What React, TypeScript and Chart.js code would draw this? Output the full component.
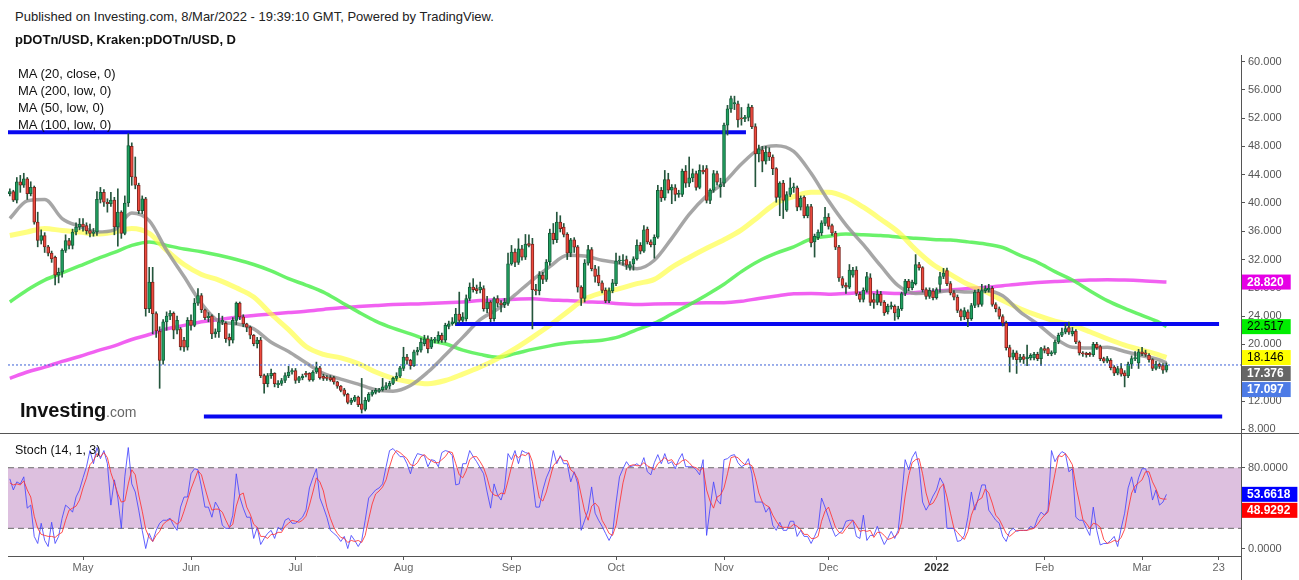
import React, { useEffect, useRef } from "react";
import { Chart, registerables } from "chart.js";
Chart.register(...registerables);

const FONT = "Arial, 'Liberation Sans', Helvetica, sans-serif";

// ---- Daily candles: 10 Apr 2021 (day 0) .. 8 Mar 2022 (day 332) ----
const opens = [
  41.3, 41.6, 40.4, 43.0, 42.5, 43.4, 41.3, 42.2, 37.3, 34.7,
  35.4, 33.8, 32.9, 32.3, 29.8, 30.2, 33.3, 34.7, 34.0, 35.9,
  36.6, 37.0, 36.8, 36.1, 35.7, 35.9, 40.5, 41.5, 40.1, 39.9,
  40.4, 36.6, 38.7, 35.7, 40.0, 48.0, 43.7, 42.5, 38.9, 40.6,
  25.05, 28.8, 24.35, 21.9, 17.75, 23.2, 24.0, 24.4, 22.0, 22.2,
  20.6, 19.6, 23.4, 22.7, 25.85, 26.9, 24.9, 23.8, 24.0, 21.5,
  21.8, 23.2, 23.0, 21.0, 20.6, 23.4, 25.85, 23.9, 22.9, 22.45,
  21.3, 20.1, 20.6, 15.6, 14.45, 15.6, 15.9, 14.3, 14.5, 14.9,
  15.6, 16.1, 16.3, 14.9, 15.3, 15.9, 15.9, 15.0, 16.1, 16.7,
  15.5, 15.4, 15.3, 15.3, 14.7, 14.1, 13.6, 12.95, 11.8, 12.1,
  12.55, 11.6, 10.8, 12.1, 12.95, 13.2, 13.4, 13.6, 13.8, 14.1,
  14.5, 15.2, 15.5, 16.6, 18.2, 17.75, 17.0, 18.95, 19.2, 20.1,
  20.8, 19.6, 20.6, 20.5, 21.3, 20.6, 22.55, 22.9, 23.0, 24.3,
  23.4, 23.6, 26.5, 28.1, 27.9, 27.7, 27.9, 25.05, 26.0, 23.65,
  26.5, 25.9, 25.6, 25.8, 31.4, 33.05, 31.6, 33.5, 32.35, 34.25,
  34.2, 27.75, 27.6, 29.8, 29.2, 31.65, 35.75, 34.8, 37.3, 36.6,
  35.55, 32.9, 34.8, 33.8, 28.1, 26.5, 31.5, 33.4, 30.7, 29.8,
  28.7, 27.65, 26.2, 27.6, 28.6, 31.8, 31.8, 32.0, 30.9, 31.4,
  32.1, 34.0, 33.2, 36.3, 34.5, 34.1, 35.15, 41.8, 40.7, 43.3,
  41.8, 42.15, 41.2, 41.2, 44.5, 42.8, 43.55, 44.15, 42.2, 44.6,
  44.85, 40.35, 41.8, 44.15, 42.3, 42.8, 51.0, 53.3, 54.0, 54.0,
  52.0, 51.9, 52.1, 53.55, 50.8, 46.95, 47.5, 45.9, 47.2, 46.5,
  44.85, 40.8, 42.8, 39.0, 41.2, 42.15, 42.15, 39.4, 40.8, 38.2,
  39.5, 34.5, 35.1, 35.75, 37.1, 38.0, 36.8, 35.75, 33.75, 29.3,
  28.35, 28.1, 29.8, 30.5, 27.1, 26.35, 27.65, 29.4, 26.35, 25.95,
  27.1, 25.95, 24.6, 25.3, 25.4, 23.9, 25.05, 27.2, 28.95, 28.0,
  28.6, 31.3, 30.85, 27.75, 26.8, 27.55, 26.6, 28.5, 29.6, 30.45,
  28.6, 27.3, 26.7, 24.8, 23.9, 24.6, 23.65, 25.5, 27.4, 25.65,
  27.6, 27.7, 27.95, 25.65, 25.05, 23.95, 23.0, 19.55, 18.2, 18.8,
  17.85, 18.3, 18.0, 18.1, 18.1, 18.6, 18.0, 19.4, 19.4, 18.7,
  18.8, 20.35, 21.3, 21.75, 22.4, 21.5, 21.9, 20.35, 18.8, 18.75,
  18.75, 18.55, 20.0, 19.7, 18.0, 17.65, 17.75, 16.8, 15.95, 16.6,
  16.0, 15.55, 17.2, 18.0, 17.4, 18.95, 18.8, 18.45, 17.85, 16.6,
  17.2, 17.0, 16.35,
];
const highs = [
  42.0, 41.8, 43.6, 43.9, 44.2, 43.6, 43.0, 42.4, 38.7, 36.2,
  35.8, 34.0, 33.2, 32.5, 30.8, 33.5, 35.5, 35.0, 36.3, 37.2,
  37.8, 37.8, 37.2, 37.0, 36.4, 41.6, 42.2, 41.9, 40.6, 41.5,
  40.8, 42.0, 38.9, 41.0, 49.8, 48.5, 46.5, 42.8, 41.0, 40.8,
  30.9, 30.9, 24.6, 22.5, 23.5, 24.6, 24.8, 24.6, 24.0, 22.4,
  21.0, 23.8, 24.2, 26.5, 27.9, 27.2, 25.0, 24.5, 24.2, 22.2,
  24.4, 24.0, 23.2, 21.5, 23.8, 26.0, 26.0, 24.2, 23.0, 22.6,
  21.4, 21.0, 21.0, 15.8, 15.9, 16.5, 16.0, 14.9, 15.2, 16.0,
  16.9, 16.6, 16.6, 15.5, 15.8, 16.2, 16.0, 16.3, 17.5, 16.9,
  15.8, 15.6, 15.6, 15.5, 14.8, 14.2, 13.8, 13.1, 12.4, 12.8,
  12.7, 15.2, 12.5, 13.2, 13.5, 13.8, 13.8, 15.2, 14.6, 14.8,
  15.4, 16.0, 16.9, 19.6, 18.6, 17.9, 19.2, 19.6, 20.9, 21.3,
  21.2, 21.0, 21.0, 21.8, 21.6, 23.0, 23.3, 23.8, 25.1, 27.4,
  24.5, 27.0, 28.7, 29.3, 28.4, 28.8, 28.3, 26.8, 26.2, 26.7,
  26.9, 26.2, 26.5, 32.9, 34.0, 33.5, 34.95, 34.0, 35.55, 35.5,
  35.0, 28.5, 30.3, 30.2, 32.0, 36.3, 37.1, 38.7, 38.2, 37.1,
  35.8, 35.0, 35.1, 34.0, 28.3, 32.0, 34.0, 33.7, 31.2, 31.0,
  29.0, 28.0, 28.0, 29.2, 32.9, 32.5, 32.7, 32.5, 31.7, 32.4,
  34.8, 34.4, 36.8, 36.6, 34.8, 35.5, 42.5, 42.2, 44.6, 44.2,
  42.6, 42.6, 41.8, 44.8, 45.3, 46.5, 44.8, 44.5, 45.4, 45.3,
  45.3, 42.0, 44.6, 44.5, 43.5, 51.3, 53.8, 55.1, 55.1, 54.4,
  53.5, 52.4, 54.0, 53.8, 51.2, 48.2, 48.0, 48.0, 47.8, 46.8,
  45.0, 43.0, 43.2, 41.6, 43.55, 42.8, 42.4, 41.0, 41.0, 39.8,
  39.8, 35.6, 36.2, 37.5, 39.4, 38.5, 37.0, 36.0, 34.0, 29.6,
  28.7, 31.3, 30.9, 31.0, 27.4, 28.0, 30.2, 30.0, 27.2, 27.7,
  27.5, 26.2, 25.7, 26.0, 25.6, 25.4, 27.4, 29.2, 29.2, 29.1,
  32.7, 31.6, 31.0, 28.0, 28.0, 27.9, 28.0, 30.2, 30.75, 30.8,
  28.9, 27.6, 27.0, 25.0, 25.2, 24.9, 25.8, 27.7, 27.8, 28.5,
  28.3, 28.5, 28.2, 25.9, 25.3, 24.2, 23.3, 19.9, 19.2, 19.1,
  18.6, 18.6, 19.9, 18.7, 18.9, 18.9, 19.6, 19.8, 19.6, 19.1,
  20.6, 21.6, 22.3, 22.9, 23.15, 22.4, 22.1, 20.5, 19.0, 18.9,
  18.9, 20.3, 20.3, 19.9, 18.2, 18.3, 18.0, 17.0, 16.9, 17.3,
  16.3, 17.5, 18.4, 19.0, 19.3, 19.6, 19.2, 18.7, 18.0, 17.6,
  17.4, 17.3, 17.4,
];
const lows = [
  41.0, 40.2, 40.0, 41.5, 42.2, 40.5, 41.0, 37.0, 33.8, 34.2,
  33.0, 32.5, 31.6, 28.4, 28.7, 29.5, 33.0, 33.5, 33.5, 35.5,
  36.2, 36.0, 35.6, 35.2, 35.3, 35.4, 40.0, 39.5, 38.7, 39.5,
  35.5, 33.9, 35.0, 35.5, 39.5, 42.5, 42.0, 38.5, 38.5, 24.0,
  24.5, 21.5, 21.0, 13.8, 17.2, 22.0, 23.5, 20.8, 21.5, 19.2,
  19.0, 19.2, 22.0, 22.5, 25.5, 24.5, 23.5, 23.2, 20.8, 21.0,
  21.0, 22.8, 20.3, 19.8, 20.2, 22.8, 23.5, 22.5, 21.8, 20.8,
  19.8, 19.5, 15.3, 13.1, 14.0, 15.2, 14.0, 13.9, 14.2, 14.6,
  15.3, 15.8, 14.5, 14.6, 15.0, 15.4, 14.8, 14.8, 15.9, 15.1,
  14.9, 14.9, 14.8, 14.4, 13.8, 13.3, 12.7, 11.6, 11.5, 11.9,
  11.2, 10.3, 10.6, 11.9, 12.7, 13.0, 13.2, 13.4, 13.6, 13.7,
  14.3, 14.9, 15.3, 16.3, 17.2, 16.5, 16.9, 18.5, 18.9, 19.8,
  18.8, 19.4, 20.2, 20.2, 20.3, 20.3, 22.2, 22.7, 22.8, 23.0,
  23.2, 23.3, 26.2, 27.4, 27.2, 27.3, 24.7, 24.5, 23.2, 23.3,
  25.3, 24.6, 25.2, 25.5, 31.2, 31.0, 31.3, 31.9, 32.0, 33.8,
  22.2, 27.0, 27.0, 28.6, 28.9, 31.2, 34.2, 34.4, 35.9, 35.2,
  32.0, 32.4, 33.0, 27.4, 25.5, 26.0, 31.2, 30.4, 28.8, 28.3,
  27.3, 25.9, 25.9, 27.3, 28.3, 31.4, 31.2, 30.6, 30.5, 30.5,
  31.9, 32.8, 33.0, 34.2, 33.8, 32.2, 35.0, 40.2, 40.4, 41.4,
  39.9, 40.3, 40.8, 40.9, 42.2, 42.3, 43.0, 41.8, 42.0, 44.1,
  40.0, 39.9, 41.5, 42.5, 40.8, 42.3, 49.6, 52.8, 53.2, 50.7,
  51.0, 51.5, 51.6, 50.5, 42.3, 45.8, 44.4, 45.5, 46.0, 44.0,
  40.1, 38.2, 37.8, 38.8, 40.9, 41.5, 38.9, 39.0, 37.9, 37.9,
  33.8, 32.35, 34.8, 35.4, 36.8, 36.3, 35.4, 33.4, 28.9, 28.0,
  27.2, 27.9, 29.5, 26.9, 26.0, 26.0, 27.4, 25.5, 25.1, 25.6,
  25.5, 24.1, 24.3, 25.0, 23.4, 23.6, 24.8, 26.9, 27.6, 27.7,
  28.4, 30.5, 27.4, 26.4, 26.5, 26.3, 26.4, 27.4, 29.3, 28.3,
  27.0, 26.3, 24.5, 23.4, 23.5, 22.5, 23.4, 25.2, 25.3, 25.4,
  27.3, 27.4, 25.4, 24.6, 23.6, 22.6, 19.2, 16.1, 17.9, 15.9,
  17.5, 17.3, 17.0, 17.8, 17.8, 17.7, 17.05, 18.8, 18.4, 18.4,
  18.6, 20.1, 21.1, 21.5, 21.4, 21.2, 20.1, 18.5, 18.3, 18.2,
  18.3, 18.3, 19.3, 17.7, 17.4, 17.4, 16.4, 15.6, 15.7, 15.5,
  14.0, 15.3, 16.6, 17.7, 16.6, 18.4, 18.3, 17.5, 16.3, 16.4,
  16.6, 15.9, 16.1,
];
const closes = [
  41.6, 40.4, 43.0, 42.5, 43.4, 41.3, 42.2, 37.3, 34.7, 35.4,
  33.8, 32.9, 32.1, 29.8, 30.2, 33.3, 34.7, 34.0, 35.9, 36.6,
  37.0, 36.6, 36.1, 35.7, 35.9, 40.5, 41.5, 40.1, 39.9, 40.4,
  36.6, 38.7, 35.7, 40.0, 48.1, 43.7, 42.5, 38.9, 40.6, 25.05,
  28.8, 24.35, 21.9, 17.75, 23.2, 24.0, 24.4, 22.0, 23.4, 19.7,
  19.6, 23.4, 22.7, 25.85, 26.9, 24.9, 23.8, 24.0, 21.5, 21.8,
  23.2, 23.4, 20.8, 20.6, 23.4, 25.85, 23.9, 22.9, 22.45, 21.3,
  20.1, 20.6, 15.6, 14.45, 15.6, 15.9, 14.45, 14.5, 14.9, 15.6,
  16.1, 16.3, 14.9, 15.3, 15.5, 15.7, 15.0, 16.1, 16.7, 15.3,
  15.2, 15.2, 15.0, 14.7, 14.1, 13.5, 12.95, 11.8, 12.1, 12.55,
  11.5, 10.8, 12.1, 12.95, 13.3, 13.5, 13.6, 14.0, 14.2, 14.5,
  15.2, 15.5, 16.7, 18.2, 17.75, 17.0, 18.95, 19.2, 20.35, 20.8,
  19.4, 20.6, 20.7, 21.3, 20.6, 22.7, 22.9, 23.2, 24.3, 23.4,
  23.9, 26.5, 28.1, 27.75, 27.6, 28.1, 25.05, 26.0, 23.65, 26.5,
  25.85, 25.6, 25.95, 31.4, 33.05, 31.6, 33.5, 32.35, 34.2, 34.0,
  27.75, 27.55, 29.8, 29.2, 31.65, 35.75, 34.8, 37.3, 36.35, 35.55,
  32.9, 34.8, 33.75, 28.1, 26.5, 31.5, 33.4, 30.7, 29.6, 28.7,
  27.65, 26.2, 27.6, 28.7, 31.8, 31.9, 31.9, 31.2, 31.3, 32.1,
  34.0, 33.2, 36.2, 34.5, 34.1, 35.15, 41.8, 40.7, 43.3, 41.8,
  42.2, 41.2, 41.35, 44.5, 42.8, 43.55, 44.15, 42.2, 44.6, 44.4,
  40.35, 41.8, 44.15, 42.95, 42.6, 51.0, 53.3, 54.75, 54.2, 51.75,
  51.9, 52.1, 53.55, 50.8, 46.95, 47.65, 45.9, 47.2, 46.5, 44.85,
  40.8, 42.8, 40.35, 41.2, 42.15, 42.2, 39.4, 40.7, 38.2, 39.5,
  34.35, 35.3, 35.9, 37.2, 38.0, 36.7, 35.75, 33.75, 29.4, 28.35,
  28.1, 30.5, 30.5, 27.2, 26.35, 27.65, 29.6, 25.95, 25.95, 27.1,
  25.95, 24.45, 25.4, 25.5, 24.45, 25.05, 27.2, 28.95, 28.0, 28.8,
  31.3, 30.85, 27.75, 26.8, 27.65, 26.6, 27.75, 29.6, 30.1, 28.6,
  27.3, 26.7, 24.8, 23.9, 24.8, 23.65, 25.5, 27.4, 25.65, 27.6,
  27.9, 27.95, 25.65, 25.05, 23.95, 23.0, 19.55, 18.2, 18.8, 17.85,
  18.2, 17.9, 18.2, 18.45, 18.6, 18.0, 19.4, 19.15, 18.7, 18.85,
  20.35, 21.3, 21.75, 22.25, 21.75, 21.9, 20.35, 18.8, 18.65, 18.55,
  18.55, 20.0, 19.55, 18.0, 17.65, 18.0, 16.7, 15.95, 16.6, 15.8,
  15.55, 17.2, 18.0, 18.1, 18.95, 18.7, 18.6, 17.85, 16.6, 17.2,
  16.9, 16.35, 17.097,
];

// ---- Stochastic (14,1,3) ----
const stochK = [
  69, 58, 66, 64, 71, 40, 43, 12, 5, 25,
  8, 2, 26, 5, 12, 30, 43, 40, 36, 51,
  58, 70, 81, 97, 84, 100, 89, 97, 84, 43,
  68, 50, 20, 71, 100, 64, 56, 38, 18, 0,
  15, 7, 18, 25, 28, 28, 30, 23, 18, 41,
  51, 51, 74, 79, 78, 61, 41, 41, 31, 46,
  40, 23, 20, 20, 33, 74, 51, 40, 31, 31,
  10, 21, 4, 10, 15, 18, 10, 21, 18, 28,
  30, 25, 25, 28, 31, 38, 60, 70, 79, 50,
  41, 31, 18, 15, 12, 7, 12, 0, 13, 8,
  2, 8, 28, 50, 54, 58, 60, 64, 81, 97,
  99, 95, 91, 91, 84, 74, 87, 94, 93, 92,
  81, 88, 87, 81, 95, 97, 96, 92, 63, 64,
  84, 84, 97, 91, 86, 80, 74, 56, 40, 64,
  53, 48, 60, 94, 88, 97, 84, 97, 95, 94,
  68, 41, 41, 58, 70, 78, 97, 84, 92, 84,
  84, 66, 76, 64, 18, 28, 38, 61, 35, 28,
  22, 15, 8, 15, 45, 71, 79, 86, 81, 82,
  84, 81, 90, 76, 73, 85, 93, 84, 94, 84,
  86, 79, 88, 94, 81, 81, 81, 78, 73, 88,
  13, 40, 66, 48, 44, 88, 89, 92, 93, 85,
  81, 83, 89, 74, 46, 46, 46, 36, 41, 23,
  18, 26, 18, 18, 27, 27, 12, 18, 12, 12,
  5, 12, 20, 50, 41, 31, 20, 12, 15, 18,
  27, 28, 28, 12, 10, 33, 8, 13, 13, 22,
  12, 4, 10, 17, 10, 18, 51, 88, 78, 90,
  96, 81, 46, 38, 44, 52, 58, 70, 64, 20,
  20, 20, 7, 8, 13, 31, 56, 38, 50, 63,
  63, 38, 33, 28, 25, 12, 7, 17, 20, 17,
  18, 18, 18, 22, 20, 30, 36, 33, 38, 97,
  86, 92, 96, 94, 76, 79, 31, 28, 28, 20,
  13, 41, 18, 3.5, 5, 5, 8, 12, 2, 20,
  35, 60, 71, 55, 70, 79, 79, 70, 48, 58,
  43, 46, 53.6618,
];
const stochD = [
  65, 63, 64, 63, 67, 58, 51, 32, 20, 14,
  13, 12, 12, 11, 14, 16, 28, 38, 40, 42,
  48, 60, 70, 83, 87, 94, 91, 95, 90, 75,
  65, 54, 46, 47, 64, 78, 73, 53, 37, 19,
  11, 7, 13, 17, 24, 27, 29, 27, 24, 27,
  37, 48, 59, 68, 77, 73, 60, 48, 38, 39,
  39, 36, 28, 21, 24, 42, 53, 55, 41, 34,
  24, 21, 12, 12, 10, 14, 14, 16, 16, 22,
  25, 28, 27, 26, 28, 32, 43, 56, 70, 66,
  57, 41, 30, 21, 15, 11, 10, 6, 8, 7,
  8, 6, 13, 29, 44, 54, 57, 61, 68, 81,
  92, 97, 95, 92, 89, 83, 82, 85, 91, 93,
  89, 87, 85, 85, 88, 91, 96, 95, 84, 73,
  70, 77, 88, 91, 91, 86, 80, 70, 57, 53,
  52, 55, 54, 67, 81, 93, 90, 93, 92, 95,
  86, 68, 50, 47, 56, 69, 82, 86, 91, 87,
  87, 78, 75, 69, 53, 37, 28, 42, 45, 41,
  28, 22, 15, 13, 23, 44, 65, 79, 82, 83,
  82, 82, 85, 82, 80, 78, 84, 87, 90, 87,
  88, 83, 84, 87, 88, 85, 81, 80, 77, 80,
  58, 47, 40, 51, 53, 60, 74, 90, 91, 90,
  86, 83, 84, 82, 70, 55, 46, 43, 41, 33,
  27, 22, 21, 21, 21, 24, 22, 19, 14, 14,
  10, 10, 12, 27, 37, 41, 31, 21, 16, 15,
  20, 24, 28, 23, 17, 18, 17, 18, 11, 16,
  16, 13, 9, 10, 12, 15, 26, 52, 72, 85,
  88, 89, 74, 55, 43, 45, 51, 60, 64, 51,
  35, 20, 16, 12, 9, 17, 33, 42, 48, 50,
  59, 55, 45, 33, 29, 22, 15, 12, 15, 18,
  18, 18, 18, 19, 20, 24, 29, 33, 36, 56,
  74, 92, 91, 94, 89, 83, 62, 46, 29, 25,
  20, 25, 24, 21, 9, 5, 6, 8, 7, 11,
  19, 38, 55, 62, 65, 68, 76, 76, 66, 59,
  50, 49, 48.9292,
];

// ---- Moving averages, read every 5 days ----
const maDays = [
  0, 5, 10, 15, 20, 25, 30, 35, 40, 45, 50, 55, 60, 65, 70, 75, 80, 85, 90, 95,
  100, 105, 110, 115, 120, 125, 130, 135, 140, 145, 150, 155, 160, 165, 170, 175, 180, 185, 190, 195,
  200, 205, 210, 215, 220, 225, 230, 235, 240, 245, 250, 255, 260, 265, 270, 275, 280, 285, 290, 295,
  300, 305, 310, 315, 320, 325, 330, 332,
];
const ma20 = [
  37.8, 40.3, 40.5, 37.8, 36.7, 35.9, 36.2, 38.6, 37.5, 33.3,
  29.6, 25.8, 23.3, 22.9, 22.2, 20.3, 19.0, 17.4, 15.9, 15.1,
  14.4, 13.6, 13.4, 14.2, 16.1, 18.5, 21.0, 23.5, 25.0, 27.0,
  29.1, 31.0, 32.6, 32.5, 31.9, 31.5, 30.7, 31.9, 35.0, 38.4,
  41.0, 42.9, 45.5, 47.6, 48.1, 47.3, 44.2, 40.3, 36.9, 34.1,
  31.1, 28.3, 27.2, 27.3, 27.6, 27.4, 27.6, 26.9, 24.6, 22.9,
  20.9, 19.6, 19.5, 19.6, 19.0, 18.4, 17.8, 17.376,
];
const ma50 = [
  35.4, 35.9, 36.4, 36.1, 35.9, 35.6, 35.9, 36.4, 35.7, 33.3,
  31.3, 29.9, 29.1, 28.0, 26.7, 24.3, 22.1, 19.7, 18.6, 18.1,
  17.3, 16.1, 15.2, 14.7, 14.45, 14.9, 15.8, 16.8, 18.0, 19.4,
  21.0, 22.7, 24.6, 26.4, 27.3, 27.9, 28.6, 29.2, 30.9, 32.3,
  33.6, 34.8, 36.2, 38.1, 40.0, 40.9, 41.5, 41.5, 40.8, 39.4,
  37.7, 35.9, 33.4, 31.3, 29.9, 28.5, 27.5, 26.2, 25.05, 24.1,
  23.3, 22.7, 21.8, 20.8, 19.9, 19.2, 18.5, 18.146,
];
const ma100 = [
  26.0, 27.7, 29.1, 30.1, 31.1, 32.1, 33.0, 34.0, 34.5, 34.0,
  33.5, 33.1, 32.6, 32.0, 31.3, 30.4, 29.3, 28.4, 27.4, 26.0,
  24.6, 23.3, 22.3, 21.5, 20.6, 20.1, 19.2, 18.6, 18.2, 18.7,
  19.3, 19.8, 20.2, 20.4, 20.6, 21.1, 22.1, 23.0, 24.3, 25.6,
  27.0, 28.5, 30.3, 31.8, 32.9, 33.8, 34.9, 35.3, 35.6, 35.5,
  35.4, 35.2, 35.0, 34.85, 34.75, 34.5, 34.2, 33.7, 32.6, 31.6,
  30.3, 29.1, 27.6, 26.2, 25.1, 24.1, 23.1, 22.517,
];
const ma200 = [
  15.2, 16.1, 16.8, 17.6, 18.3, 19.1, 19.8, 20.7, 21.4, 22.2,
  22.7, 23.2, 23.5, 23.85, 24.1, 24.3, 24.5, 24.7, 24.95, 25.2,
  25.35, 25.5, 25.65, 25.7, 25.8, 25.9, 26.0, 26.2, 26.3, 26.4,
  26.45, 26.3, 26.2, 26.05, 25.95, 25.75, 25.65, 25.7, 25.75, 25.8,
  25.9, 25.9, 26.1, 26.5, 26.85, 27.15, 27.2, 27.1, 27.2, 27.3,
  27.3, 27.2, 27.35, 27.5, 27.7, 27.9, 28.05, 28.3, 28.55, 28.75,
  28.9, 29.0, 29.1, 29.15, 29.1, 29.0, 28.85, 28.82,
];

// ---- Drawn horizontal levels (value, start day, end day) ----
const levelValues = [50.0, 22.9, 9.8];
const levelStartDays = [-0.53, 127.8, 55.7];
const levelEndDays = [211.3, 347.1, 348.0];

// ---- Axes ----
const X_MIN = -0.53;
const X_MAX = 353.4;
const monthTickDays = [21, 52, 82, 113, 144, 174, 205, 235, 266, 297, 325, 347];
const monthTickLabels = ["May", "Jun", "Jul", "Aug", "Sep", "Oct", "Nov", "Dec", "2022", "Feb", "Mar", "23"];
const priceTicks = [8, 12, 16, 20, 24, 28, 32, 36, 40, 44, 48, 52, 56, 60];
const stochTicks = [0, 80];
const stochBand = [80, 20];

const AXIS_W = 58;

function labelPlugin(id: string, scaleId: string, items: any[]) {
  return {
    id,
    afterDraw(chart: any) {
      const ctx = chart.ctx;
      const scale = chart.scales[scaleId];
      const ca = chart.chartArea;
      ctx.save();
      const h = 15;
      const arr = items
        .map((it) => ({ ...it, c: scale.getPixelForValue(it.value) }))
        .sort((a, b) => a.c - b.c);
      let prevBottom = -Infinity;
      for (const it of arr) {
        let top = it.c - h / 2;
        if (top < prevBottom + 1) top = prevBottom + 1;
        const text = it.value.toFixed(it.digits);
        ctx.font = `${it.fg === "#ffffff" ? "bold " : ""}12px ${FONT}`;
        const w = ctx.measureText(text).width + 12;
        ctx.fillStyle = it.bg;
        ctx.fillRect(ca.right + 1, top, w, h);
        ctx.fillStyle = it.fg;
        ctx.textBaseline = "middle";
        ctx.textAlign = "left";
        ctx.fillText(text, ca.right + 6, top + h / 2 + 0.5);
        prevBottom = top + h;
      }
      ctx.restore();
    },
  };
}

const axisExtend = {
  id: "axisExtend",
  afterDraw(chart: any) {
    const ctx = chart.ctx;
    const ca = chart.chartArea;
    ctx.save();
    ctx.strokeStyle = "#555";
    ctx.lineWidth = 1;
    ctx.beginPath();
    ctx.moveTo(Math.round(ca.right) + 0.5, ca.bottom);
    ctx.lineTo(Math.round(ca.right) + 0.5, chart.height);
    ctx.stroke();
    ctx.restore();
  },
};

function noEdgePadding(s: any) {
  s.paddingTop = 0;
  s.paddingBottom = 0;
  s.paddingLeft = 0;
  s.paddingRight = 0;
}

function mainConfig(): any {
  const days = closes.map((_, i) => i);
  const up = days.map((i) => closes[i] >= opens[i]);
  const mk = (arr: number[]) => maDays.map((d, i) => ({ x: d, y: arr[i] }));
  const lastClose = closes[closes.length - 1];
  const lineBase = { type: "line", pointRadius: 0, cubicInterpolationMode: "monotone", fill: false };
  const datasets: any[] = [
    {
      type: "line",
      data: [{ x: X_MIN, y: lastClose }, { x: X_MAX, y: lastClose }],
      borderColor: "#3a5fd6",
      borderWidth: 1,
      borderDash: [2, 2],
      pointRadius: 0,
      order: 0,
    },
    {
      type: "bar",
      data: days.map((i) => ({ x: i, y: [opens[i], closes[i]] })),
      backgroundColor: up.map((u) => (u ? "#20a060" : "#ee4a3e")),
      borderColor: up.map((u) => (u ? "#13603a" : "#7e2620")),
      borderWidth: 1,
      borderSkipped: false,
      barThickness: 3,
      minBarLength: 1,
      grouped: false,
      order: 1,
    },
    {
      type: "bar",
      data: days.map((i) => ({ x: i, y: [lows[i], highs[i]] })),
      backgroundColor: "#24553c",
      barThickness: 1,
      grouped: false,
      order: 2,
    },
  ];
  levelValues.forEach((v, k) => {
    datasets.push({
      type: "line",
      data: [{ x: levelStartDays[k], y: v }, { x: levelEndDays[k], y: v }],
      borderColor: "#0808f0",
      borderWidth: 4,
      pointRadius: 0,
      order: 3,
    });
  });
  datasets.push({ ...lineBase, data: mk(ma20), borderColor: "rgba(150,150,150,0.85)", borderWidth: 3.5, order: 4 });
  datasets.push({ ...lineBase, data: mk(ma50), borderColor: "rgba(255,255,60,0.65)", borderWidth: 5, order: 5 });
  datasets.push({ ...lineBase, data: mk(ma100), borderColor: "rgba(80,240,80,0.85)", borderWidth: 3.5, order: 6 });
  datasets.push({ ...lineBase, data: mk(ma200), borderColor: "rgba(240,80,240,0.9)", borderWidth: 3.5, order: 7 });

  return {
    type: "bar",
    data: { datasets },
    options: {
      animation: false,
      responsive: false,
      maintainAspectRatio: false,
      events: [],
      layout: { padding: { left: 8, right: 0, top: 0, bottom: 0 } },
      plugins: { legend: { display: false }, tooltip: { enabled: false } },
      scales: {
        x: { type: "linear", min: X_MIN, max: X_MAX, display: false, offset: false },
        y: {
          position: "right",
          min: 7.48,
          max: 60.92,
          afterFit(s: any) { s.width = AXIS_W; noEdgePadding(s); },
          afterBuildTicks(s: any) { s.ticks = priceTicks.map((v) => ({ value: v })); },
          ticks: {
            callback: (v: any) => Number(v).toFixed(3),
            color: "#555",
            font: { family: FONT, size: 11 },
            padding: 3,
            autoSkip: false,
          },
          grid: { drawOnChartArea: false, drawTicks: true, tickLength: 4, color: "#555" },
          border: { display: true, color: "#555", width: 1 },
        },
      },
    },
    plugins: [
      labelPlugin("mainLabels", "y", [
        { value: ma200[ma200.length - 1], bg: "#e600e6", fg: "#ffffff", digits: 3 },
        { value: ma100[ma100.length - 1], bg: "#00ee00", fg: "#000000", digits: 3 },
        { value: ma50[ma50.length - 1], bg: "#ffff00", fg: "#000000", digits: 3 },
        { value: ma20[ma20.length - 1], bg: "#666666", fg: "#ffffff", digits: 3 },
        { value: lastClose, bg: "#4d7be6", fg: "#ffffff", digits: 3 },
      ]),
    ],
  };
}

function stochConfig(): any {
  const days = stochK.map((_, i) => i);
  return {
    type: "line",
    data: {
      datasets: [
        {
          data: [{ x: X_MIN, y: stochBand[0] }, { x: X_MAX, y: stochBand[0] }],
          borderColor: "#6a6a6a",
          borderWidth: 1,
          borderDash: [6, 4],
          pointRadius: 0,
          fill: "+1",
          backgroundColor: "#ddc0df",
          order: 3,
        },
        {
          data: [{ x: X_MIN, y: stochBand[1] }, { x: X_MAX, y: stochBand[1] }],
          borderColor: "#6a6a6a",
          borderWidth: 1,
          borderDash: [6, 4],
          pointRadius: 0,
          fill: false,
          order: 2,
        },
        {
          data: days.map((i) => ({ x: i, y: stochK[i] })),
          borderColor: "rgba(70,70,255,0.85)",
          borderWidth: 1,
          pointRadius: 0,
          fill: false,
          order: 1,
        },
        {
          data: days.map((i) => ({ x: i, y: stochD[i] })),
          borderColor: "rgba(255,50,50,0.85)",
          borderWidth: 1,
          pointRadius: 0,
          fill: false,
          order: 0,
        },
      ],
    },
    options: {
      animation: false,
      responsive: false,
      maintainAspectRatio: false,
      events: [],
      layout: { padding: { left: 8, right: 0, top: 0, bottom: 0 } },
      plugins: { legend: { display: false }, tooltip: { enabled: false } },
      scales: {
        x: {
          type: "linear",
          min: X_MIN,
          max: X_MAX,
          offset: false,
          afterFit(s: any) { s.height = 24; noEdgePadding(s); },
          afterBuildTicks(s: any) { s.ticks = monthTickDays.map((v) => ({ value: v })); },
          ticks: {
            callback: (_v: any, idx: number) => monthTickLabels[idx],
            autoSkip: false,
            maxRotation: 0,
            padding: 1,
            color: (c: any) => (c.tick && c.tick.value === 266 ? "#333" : "#666"),
            font: (c: any) => ({ family: FONT, size: 11, weight: c.tick && c.tick.value === 266 ? "bold" : "normal" }),
          },
          grid: { drawOnChartArea: false, drawTicks: true, tickLength: 4, color: "#555" },
          border: { display: true, color: "#555", width: 1 },
        },
        y: {
          position: "right",
          min: -7.4,
          max: 114.4,
          afterFit(s: any) { s.width = AXIS_W; noEdgePadding(s); },
          afterBuildTicks(s: any) { s.ticks = stochTicks.map((v) => ({ value: v })); },
          ticks: {
            callback: (v: any) => Number(v).toFixed(4),
            color: "#555",
            font: { family: FONT, size: 11 },
            padding: 3,
            autoSkip: false,
          },
          grid: { drawOnChartArea: false, drawTicks: true, tickLength: 4, color: "#555" },
          border: { display: true, color: "#555", width: 1 },
        },
      },
    },
    plugins: [
      axisExtend,
      labelPlugin("stochLabels", "y", [
        { value: stochK[stochK.length - 1], bg: "#0000ff", fg: "#ffffff", digits: 4 },
        { value: stochD[stochD.length - 1], bg: "#ff0000", fg: "#ffffff", digits: 4 },
      ]),
    ],
  };
}

const textBase: React.CSSProperties = {
  position: "absolute",
  fontFamily: FONT,
  whiteSpace: "nowrap",
  color: "#222",
  zIndex: 2,
};

export default function App() {
  const mainRef = useRef<HTMLCanvasElement>(null);
  const stochRef = useRef<HTMLCanvasElement>(null);

  useEffect(() => {
    const c1 = new Chart(mainRef.current as HTMLCanvasElement, mainConfig());
    const c2 = new Chart(stochRef.current as HTMLCanvasElement, stochConfig());
    return () => {
      c1.destroy();
      c2.destroy();
    };
  }, []);

  const legend = ["MA (20, close, 0)", "MA (200, low, 0)", "MA (50, low, 0)", "MA (100, low, 0)"];

  return (
    <div style={{ position: "fixed", left: 0, top: 0, width: 1299, height: 580, background: "#fff", overflow: "hidden" }}>
      <canvas
        ref={mainRef}
        width={1299}
        height={378}
        style={{ position: "absolute", left: 0, top: 55, width: 1299, height: 378 }}
      />
      <canvas
        ref={stochRef}
        width={1299}
        height={147}
        style={{ position: "absolute", left: 0, top: 433, width: 1299, height: 147 }}
      />
      <div style={{ position: "absolute", left: 0, top: 433, width: 1299, height: 1, background: "#555", zIndex: 1 }} />

      <div style={{ ...textBase, left: 15, top: 10, fontSize: 13, lineHeight: "13px" }}>
        Published on Investing.com, 8/Mar/2022 - 19:39:10 GMT, Powered by TradingView.
      </div>
      <div style={{ ...textBase, left: 15, top: 33, fontSize: 13, lineHeight: "13px", fontWeight: "bold", color: "#111" }}>
        pDOTn/USD, Kraken:pDOTn/USD, D
      </div>
      {legend.map((t, i) => (
        <div key={t} style={{ ...textBase, left: 18, top: 67 + i * 17, fontSize: 13, lineHeight: "13px", color: "#111" }}>
          {t}
        </div>
      ))}
      <div style={{ ...textBase, left: 15, top: 444, fontSize: 12.5, lineHeight: "12.5px", color: "#111" }}>
        Stoch (14, 1, 3)
      </div>
      <div style={{ ...textBase, left: 20, top: 400, lineHeight: "20px", color: "#111" }}>
        <span style={{ fontSize: 20, fontWeight: "bold", letterSpacing: "-0.2px" }}>Investing</span>
        <span style={{ fontSize: 14, color: "#666" }}>.com</span>
      </div>
    </div>
  );
}
